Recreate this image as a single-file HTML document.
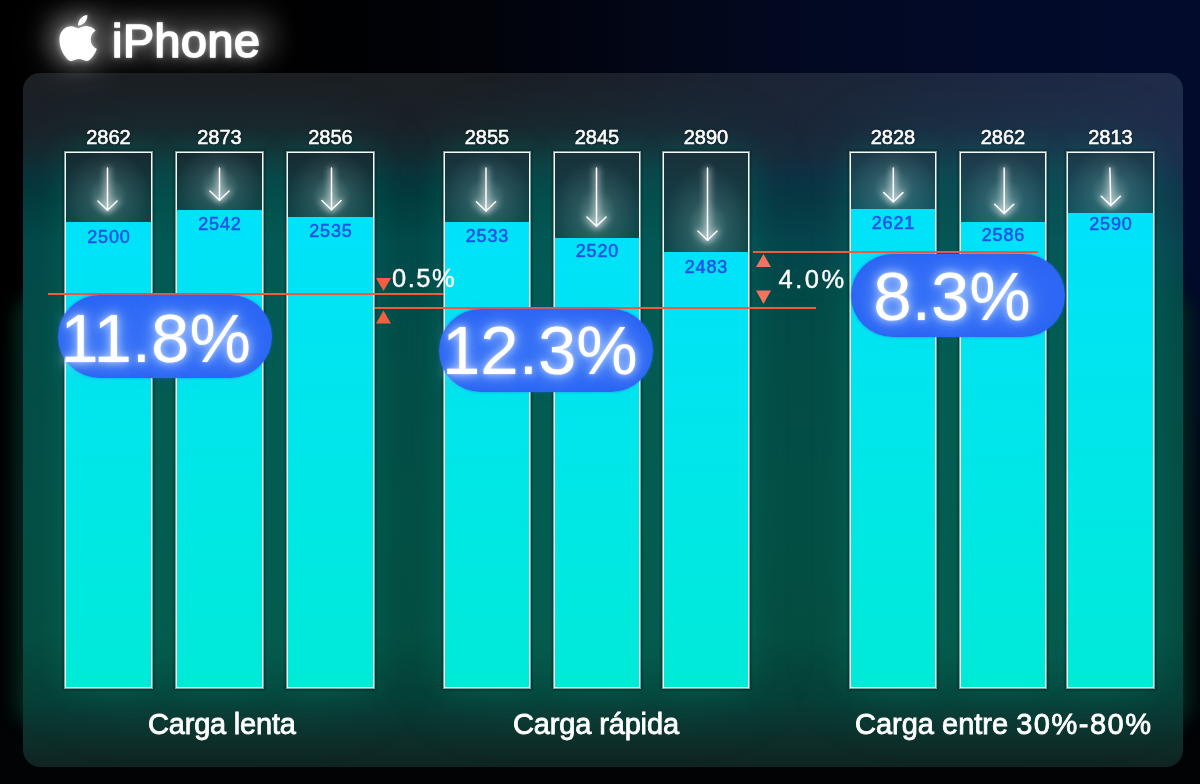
<!DOCTYPE html><html><head><meta charset="utf-8"><title>iPhone</title><style>
*{margin:0;padding:0;box-sizing:border-box}
html,body{width:1200px;height:784px;overflow:hidden}
body{position:relative;background:#000;font-family:"Liberation Sans",Arial,sans-serif;}
.bg{position:absolute;left:0;top:0;width:1200px;height:784px;
 background:
  linear-gradient(180deg,rgba(1,4,5,0) 0px,rgba(1,4,5,0) 250px,rgba(1,4,5,0.85) 600px,#010304 784px),
  linear-gradient(90deg,#000 0%,#000 22%,#010309 40%,#02081e 62%,#020a28 80%,#020b2c 100%);}
.panel{position:absolute;left:23px;top:73px;width:1160px;height:694px;border-radius:17px;overflow:hidden;
 background:linear-gradient(180deg,#1b1f24 0px,#1a2228 55px,#132a30 85px,#08323a 105px,#03393c 125px,#03484a 170px,#044c46 300px,#044e44 450px,#054d40 560px,#063f36 625px,#0b3530 650px,#0e2b27 675px,#0f2422 694px);}
.panel .tint{position:absolute;left:0;top:0;width:1160px;height:694px;
 background:linear-gradient(90deg,rgba(0,0,0,0) 0%,rgba(0,0,0,0) 40%,rgba(30,50,95,0.35) 70%,rgba(36,52,100,0.6) 100%);
 -webkit-mask-image:linear-gradient(180deg,#000 0px,#000 70px,rgba(0,0,0,0.5) 150px,transparent 230px);}
.haze{position:absolute;left:44px;top:10px;width:236px;height:54px;border-radius:24px;background:rgba(255,255,255,0.14);filter:blur(11px);}
.sideglow{position:absolute;left:14px;top:290px;width:1178px;height:440px;border-radius:30px;background:rgba(3,40,32,0.9);filter:blur(8px);}
.panel .glow{position:absolute;border-radius:40px;background:rgba(10,110,95,0.3);filter:blur(30px);}
.bar{position:absolute;top:152px;height:536px;border:1px solid #f4fbfb;
 box-shadow:0 0 0 1px rgba(235,248,248,0.55),0 0 2px 2px rgba(0,20,20,0.45),0 0 30px 0px rgba(0,190,160,0.16);}
.bar .top{position:absolute;left:0;right:0;top:0;background:linear-gradient(180deg,#16303a 0%,#0c4446 100%);}
.bar .fill{position:absolute;left:0;right:0;bottom:0;background:linear-gradient(180deg,#00e2fa 0%,#00e6ea 45%,#00ead8 100%);}
.num{position:absolute;width:120px;text-align:center;color:#fff;font-size:20px;line-height:20px;
 -webkit-text-stroke:0.55px #fff;text-shadow:0 0 3px rgba(0,0,0,0.6);}
.bnum{position:absolute;width:120px;text-align:center;color:#1f52e4;-webkit-text-stroke:0.5px #1f52e4;font-size:18px;line-height:18px;letter-spacing:0.8px;}
.hl{position:absolute;height:2px;background:#f25a3c;}
.pill{position:absolute;width:214px;height:83px;border-radius:42px;background:radial-gradient(ellipse 60% 60% at 50% 50%,#3470f7 0%,#2e69f6 70%,#2a64f2 100%);
 box-shadow:0 0 3px rgba(40,100,250,0.6);}
.pill span{position:absolute;left:0;width:214px;text-align:center;color:#fff;font-size:69px;line-height:69px;white-space:nowrap;
 text-shadow:0 0 2px rgba(255,255,255,0.5),0 0 8px rgba(210,228,255,0.85),0 0 16px rgba(170,205,255,0.75),0 0 26px rgba(140,185,255,0.5);}
.lbl{position:absolute;color:#fff;-webkit-text-stroke:0.8px #fff;font-size:29px;line-height:29px;white-space:nowrap;}
.pct{position:absolute;color:#fff;-webkit-text-stroke:0.4px #fff;font-size:25.5px;line-height:25.5px;letter-spacing:1.5px;white-space:nowrap;}
.title{position:absolute;color:#fff;font-size:46.5px;line-height:46.5px;-webkit-text-stroke:1.7px #fff;letter-spacing:0.6px;
 text-shadow:0 0 3px rgba(255,255,255,0.7),0 0 9px rgba(255,255,255,0.5),0 0 20px rgba(255,255,255,0.35),0 0 36px rgba(255,255,255,0.2);}
</style></head><body>
<div class="bg"></div>
<div class="sideglow"></div><div class="haze"></div>
<div class="panel"><div class="tint"></div><div class="glow" style="left:41px;top:67px;width:311px;height:560px"></div><div class="glow" style="left:420px;top:67px;width:307px;height:560px"></div><div class="glow" style="left:826px;top:67px;width:305px;height:560px"></div></div>
<svg class="apple" style="position:absolute;left:59.3px;top:15px;filter:drop-shadow(0 0 3px rgba(255,255,255,0.55)) drop-shadow(0 0 12px rgba(255,255,255,0.4)) drop-shadow(0 0 22px rgba(255,255,255,0.25))" width="38.3" height="46" viewBox="2 0 20 24" preserveAspectRatio="none"><path fill="#fff" d="M12.152 6.896c-.948 0-2.415-1.078-3.96-1.04-2.04.027-3.91 1.183-4.961 3.014-2.117 3.675-.546 9.103 1.519 12.09 1.013 1.454 2.208 3.09 3.792 3.039 1.52-.065 2.09-.987 3.935-.987 1.831 0 2.35.987 3.96.948 1.637-.026 2.676-1.48 3.676-2.948 1.156-1.688 1.636-3.325 1.662-3.415-.039-.013-3.182-1.221-3.22-4.857-.026-3.04 2.48-4.494 2.597-4.559-1.429-2.09-3.623-2.324-4.39-2.376-2-.156-3.675 1.09-4.61 1.09zM15.53 3.83c.843-1.012 1.4-2.427 1.245-3.83-1.207.052-2.662.805-3.532 1.818-.78.896-1.454 2.338-1.273 3.714 1.338.104 2.715-.688 3.559-1.701"/></svg>
<div class="title" style="left:112px;top:18.0px">iPhone</div>
<div class="bar" style="left:65px;width:87px;"><div class="top" style="height:69px;background:radial-gradient(ellipse 44px 46px at 41.5px 44.0px,rgba(175,210,210,0.5) 0%,rgba(125,175,175,0.2) 45%,rgba(60,120,120,0) 100%),linear-gradient(180deg,#172a31 0%,#0e4548 100%)"></div><div class="fill" style="top:69px"></div></div>
<div class="num" style="left:48.5px;top:127.3px">2862</div>
<div class="bnum" style="left:48.9px;top:227.7px">2500</div>
<div class="bar" style="left:176px;width:87px;"><div class="top" style="height:57px;background:radial-gradient(ellipse 44px 41px at 42.5px 34.0px,rgba(175,210,210,0.5) 0%,rgba(125,175,175,0.2) 45%,rgba(60,120,120,0) 100%),linear-gradient(180deg,#172a31 0%,#0e4548 100%)"></div><div class="fill" style="top:57px"></div></div>
<div class="num" style="left:159.5px;top:127.3px">2873</div>
<div class="bnum" style="left:159.9px;top:215.2px">2542</div>
<div class="bar" style="left:287px;width:87px;"><div class="top" style="height:64px;background:radial-gradient(ellipse 44px 46px at 43.5px 43.5px,rgba(175,210,210,0.5) 0%,rgba(125,175,175,0.2) 45%,rgba(60,120,120,0) 100%),linear-gradient(180deg,#172a31 0%,#0e4548 100%)"></div><div class="fill" style="top:64px"></div></div>
<div class="num" style="left:270.5px;top:127.3px">2856</div>
<div class="bnum" style="left:270.9px;top:222.4px">2535</div>
<div class="bar" style="left:444px;width:86px;"><div class="top" style="height:69px;background:radial-gradient(ellipse 44px 46px at 41.0px 44.8px,rgba(175,210,210,0.5) 0%,rgba(125,175,175,0.2) 45%,rgba(60,120,120,0) 100%),linear-gradient(180deg,#19303a 0%,#0f494d 100%)"></div><div class="fill" style="top:69px"></div></div>
<div class="num" style="left:427.0px;top:127.3px">2855</div>
<div class="bnum" style="left:427.4px;top:227.4px">2533</div>
<div class="bar" style="left:554px;width:86px;"><div class="top" style="height:85px;background:radial-gradient(ellipse 44px 54px at 41.5px 60.0px,rgba(175,210,210,0.5) 0%,rgba(125,175,175,0.2) 45%,rgba(60,120,120,0) 100%),linear-gradient(180deg,#19303a 0%,#0f494d 100%)"></div><div class="fill" style="top:85px"></div></div>
<div class="num" style="left:537.0px;top:127.3px">2845</div>
<div class="bnum" style="left:537.4px;top:242.4px">2520</div>
<div class="bar" style="left:663px;width:86px;"><div class="top" style="height:99px;background:radial-gradient(ellipse 44px 61px at 43.5px 74.0px,rgba(175,210,210,0.5) 0%,rgba(125,175,175,0.2) 45%,rgba(60,120,120,0) 100%),linear-gradient(180deg,#19303a 0%,#0f494d 100%)"></div><div class="fill" style="top:99px"></div></div>
<div class="num" style="left:646.0px;top:127.3px">2890</div>
<div class="bnum" style="left:646.4px;top:257.7px">2483</div>
<div class="bar" style="left:850px;width:86px;"><div class="top" style="height:56px;background:radial-gradient(ellipse 44px 42px at 42.3px 35.6px,rgba(175,210,210,0.5) 0%,rgba(125,175,175,0.2) 45%,rgba(60,120,120,0) 100%),linear-gradient(180deg,#1d3848 0%,#125560 100%)"></div><div class="fill" style="top:56px"></div></div>
<div class="num" style="left:833.0px;top:127.3px">2828</div>
<div class="bnum" style="left:833.4px;top:214.4px">2621</div>
<div class="bar" style="left:960px;width:86px;"><div class="top" style="height:69px;background:radial-gradient(ellipse 44px 48px at 43.2px 47.2px,rgba(175,210,210,0.5) 0%,rgba(125,175,175,0.2) 45%,rgba(60,120,120,0) 100%),linear-gradient(180deg,#1d3848 0%,#125560 100%)"></div><div class="fill" style="top:69px"></div></div>
<div class="num" style="left:943.0px;top:127.3px">2862</div>
<div class="bnum" style="left:943.4px;top:226.3px">2586</div>
<div class="bar" style="left:1067px;width:87px;"><div class="top" style="height:60px;background:radial-gradient(ellipse 44px 44px at 42.8px 39.2px,rgba(175,210,210,0.5) 0%,rgba(125,175,175,0.2) 45%,rgba(60,120,120,0) 100%),linear-gradient(180deg,#1d3848 0%,#125560 100%)"></div><div class="fill" style="top:60px"></div></div>
<div class="num" style="left:1050.5px;top:127.3px">2813</div>
<div class="bnum" style="left:1050.9px;top:214.6px">2590</div>
<svg class="arrows" style="position:absolute;left:0;top:0" width="1200" height="784" viewBox="0 0 1200 784"><defs><filter id="gl" x="-50%" y="-50%" width="200%" height="200%"><feGaussianBlur stdDeviation="3.5" result="b"/><feMerge><feMergeNode in="b"/><feMergeNode in="b"/><feMergeNode in="SourceGraphic"/></feMerge></filter></defs><g filter="url(#gl)" stroke="#fff" stroke-width="1.5" fill="none" stroke-linecap="round" stroke-linejoin="round"><path d="M107.5 168 L107.5 210.2"/><path d="M97.9 201.0 L107.5 210.2 L117.1 201.0"/></g><g filter="url(#gl)" stroke="#fff" stroke-width="1.5" fill="none" stroke-linecap="round" stroke-linejoin="round"><path d="M219.5 168 L219.5 200.2"/><path d="M209.9 191.0 L219.5 200.2 L229.1 191.0"/></g><g filter="url(#gl)" stroke="#fff" stroke-width="1.5" fill="none" stroke-linecap="round" stroke-linejoin="round"><path d="M331.5 168 L331.5 209.7"/><path d="M321.9 200.5 L331.5 209.7 L341.1 200.5"/></g><g filter="url(#gl)" stroke="#fff" stroke-width="1.5" fill="none" stroke-linecap="round" stroke-linejoin="round"><path d="M486.0 168 L486.0 211.0"/><path d="M476.4 201.8 L486.0 211.0 L495.6 201.8"/></g><g filter="url(#gl)" stroke="#fff" stroke-width="1.5" fill="none" stroke-linecap="round" stroke-linejoin="round"><path d="M596.5 168 L596.5 226.2"/><path d="M586.9 217.0 L596.5 226.2 L606.1 217.0"/></g><g filter="url(#gl)" stroke="#fff" stroke-width="1.5" fill="none" stroke-linecap="round" stroke-linejoin="round"><path d="M707.5 168 L707.5 240.2"/><path d="M697.9 231.0 L707.5 240.2 L717.1 231.0"/></g><g filter="url(#gl)" stroke="#fff" stroke-width="1.5" fill="none" stroke-linecap="round" stroke-linejoin="round"><path d="M893.3 168 L893.3 201.8"/><path d="M883.7 192.6 L893.3 201.8 L902.9 192.6"/></g><g filter="url(#gl)" stroke="#fff" stroke-width="1.5" fill="none" stroke-linecap="round" stroke-linejoin="round"><path d="M1004.2 168 L1004.2 213.4"/><path d="M994.6 204.2 L1004.2 213.4 L1013.8 204.2"/></g><g filter="url(#gl)" stroke="#fff" stroke-width="1.5" fill="none" stroke-linecap="round" stroke-linejoin="round"><path d="M1109.9 168 L1110.8 205.4"/><path d="M1101.2 196.2 L1110.8 205.4 L1120.4 196.2"/></g></svg>
<div class="hl" style="left:48px;top:293px;width:395px"></div>
<div class="hl" style="left:375px;top:307px;width:441px"></div>
<div class="hl" style="left:753px;top:251px;width:285px"></div>
<svg class="tri" style="position:absolute;left:0;top:0" width="1200" height="784"><g fill="#f2603f"><path d="M376 278 L391 278 L383.5 291Z"/><path d="M376 323.4 L391 323.4 L383.5 310.4Z"/></g><g fill="#f2735e"><path d="M756 267 L771 267 L763.5 254Z"/><path d="M756 290.5 L771 290.5 L763.5 303.9Z"/></g></svg>
<div class="pct" style="left:392px;top:265.6px">0.5%</div>
<div class="pct" style="letter-spacing:2.5px;left:778.5px;top:266.7px">4.0%</div>
<div class="pill" style="left:58px;top:295px"><span style="top:8.9px;left:-9.5px">11.8%</span></div>
<div class="pill" style="left:439px;top:309px"><span style="top:6.9px;left:-6.2px">12.3%</span></div>
<div class="pill" style="left:851px;top:253.5px"><span style="top:8.7px;left:-6px">8.3%</span></div>
<div class="lbl" style="letter-spacing:-0.2px;left:148px;top:710.3px">Carga lenta</div>
<div class="lbl" style="letter-spacing:-0.15px;left:513px;top:710.3px">Carga rápida</div>
<div class="lbl" style="left:855px;top:710.3px">Carga entre <span style="letter-spacing:1.5px">30%-80%</span></div>
</body></html>
